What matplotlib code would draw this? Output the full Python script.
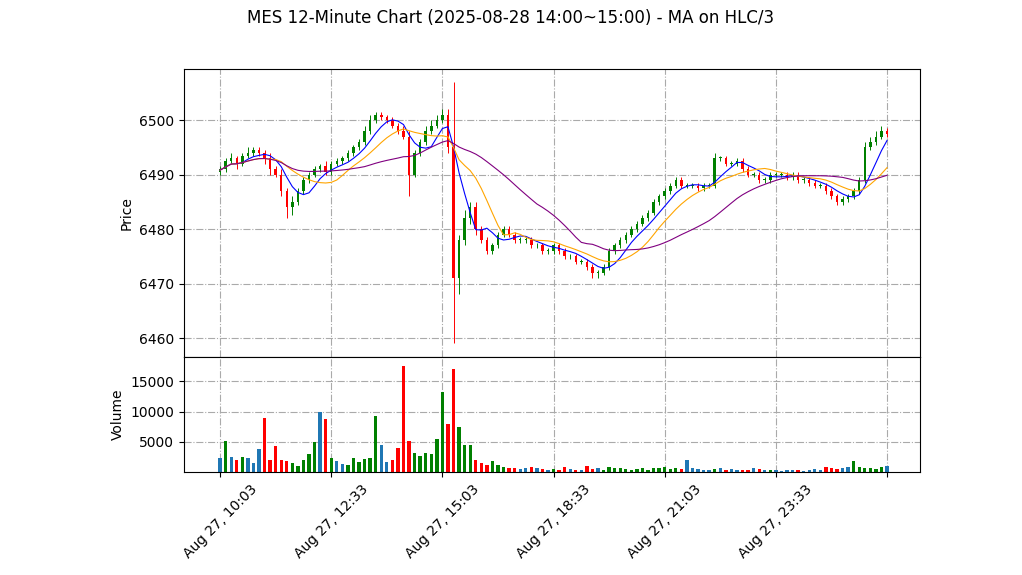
import matplotlib
matplotlib.use("Agg")
import matplotlib.pyplot as plt
import numpy as np
import pandas as pd

title = "MES 12-Minute Chart (2025-08-28 14:00~15:00) - MA on HLC/3"
tick_labels = ["Aug 27, 10:03", "Aug 27, 12:33", "Aug 27, 15:03", "Aug 27, 18:33",
               "Aug 27, 21:03", "Aug 27, 23:33", ""]
tick_idx = [0, 20, 40, 60, 80, 100, 120]

close = [6491,6492.5,6493,6492,6493.5,6494,6494.5,6494,6493,6491,
         6490,6487,6484,6485,6487,6489,6490,6491,6491.5,6490.5,
         6492,6492.5,6493,6494,6495,6496,6498,6500,6501,6500.5,
         6500,6499,6498,6497,6490,6494,6496,6498,6499,6500,
         6501,6495,6471,6478,6482,6484,6480,6478,6476,6477,
         6479,6480,6479,6478,6478,6478,6477,6477,6476,6476,
         6477,6476,6475,6475,6474,6474,6473,6472,6472,6473,
         6476,6477,6478,6479,6480,6481,6482,6483,6485,6486,
         6487,6488,6489,6488,6488,6488,6487.5,6488,6488,6493,
         6493,6492,6492,6492.5,6491,6490,6490,6489,6489,6490,
         6490,6490,6489.5,6490,6489,6489,6488.5,6488,6488,6487,
         6486,6485,6485.5,6486,6487,6489,6495,6496,6497,6498,6497.5]
open_first = 6490.5
wick_up = [1,1,2,1,1,2,1,1,1,2, 1,2,1,2,1,1,1,1,1,2, 1,1,1,1,1,1,2,2,1,1,
           1,1,1,2,2,1,1,2,2,2, 2,2,24,2,3,2,2,1,1,1, 1,1,1,1,1,1,1,1,1,1,
           1,1,1,1,1,1,1,1,1,1, 1,1,1,1,1,1,1,1,1,1, 1,1,1,1,1,1,1,1,1,2,
           1,1,1,1,1,1,1,1,1,1, 1,1,1,1,1,1,1,1,1,1, 1,1,1,1,1,1,2,2,2,2,1]
wick_dn = [1,1,1,2,1,1,1,1,2,2, 1,2,4,3,1,1,1,1,1,1, 1,1,1,1,1,1,1,1,1,1,
           1,1,1,1,8,1,1,1,1,1, 1,2,24,6,2,2,2,1,1,1, 1,1,1,1,1,1,1,1,1,1,
           1,1,1,1,1,1,1,2,2,1, 1,1,1,1,1,1,1,1,1,1, 1,1,1,1,1,1,1,1,1,1,
           1,1,1,1,1,1,1,1,1,1, 1,1,1,1,1,1,1,1,1,1, 1,1,1,1,1,1,1,1,1,1,1]
volume = [2300,5200,2500,2000,2500,2300,1500,3800,9000,2000,
          4300,2000,1800,1500,1000,2000,3000,5000,10000,8800,
          2400,1800,1400,1200,2300,1700,2200,2300,9300,4400,
          1600,2000,3900,17600,5200,3200,2700,3200,3000,5500,
          13200,8000,17000,7500,4500,4500,2000,1500,1200,1900,
          1200,800,700,600,500,600,800,600,500,400,
          500,400,900,500,400,400,1000,500,600,400,
          900,700,600,500,400,500,600,400,600,700,
          800,500,600,500,2000,600,500,400,300,500,
          600,400,500,300,400,300,600,500,300,400,
          300,200,300,400,300,200,300,500,300,800,
          600,500,700,900,1900,800,600,700,500,900,1000]

c = np.array(close, float)
o = np.concatenate([[open_first], c[:-1]])
h = np.maximum(o, c) + np.array(wick_up) * 0.5
l = np.minimum(o, c) - np.array(wick_dn) * 0.5
x = np.arange(len(c))
hlc3 = pd.Series((h + l + c) / 3)

fig = plt.figure(figsize=(10.22, 5.75), dpi=100)
fig.suptitle(title, fontsize=12, y=0.985)
ax = fig.add_axes([0.18, 0.379, 0.72, 0.501])
axv = fig.add_axes([0.18, 0.179, 0.72, 0.2], sharex=ax)

for a in (ax, axv):
    a.grid(True, color="#aaaaaa", linestyle="-.", linewidth=0.8)
    a.set_axisbelow(True)

up = c >= o
cols = np.where(up, "green", "red")
ax.vlines(x, l, h, colors=cols, linewidth=0.7)
ax.bar(x, np.maximum(np.abs(c - o), 0.15), bottom=np.minimum(o, c), width=0.45, color=cols)
ax.plot(x, hlc3.rolling(5, min_periods=1).mean(), color="blue", lw=0.8)
ax.plot(x, hlc3.rolling(10, min_periods=1).mean(), color="orange", lw=0.8)
ax.plot(x, hlc3.rolling(24, min_periods=1).mean(), color="purple", lw=0.8)
ax.set_ylim(6456.5, 6509.4)
ax.set_yticks([6460, 6470, 6480, 6490, 6500])
ax.set_ylabel("Price")
plt.setp(ax.get_xticklabels(), visible=False)

vcols = np.where(np.abs(c - o) < 0.75, "#1f77b4", cols)
axv.bar(x, volume, width=0.6, color=vcols)
axv.set_ylim(0, 19000)
axv.set_yticks([5000, 10000, 15000])
axv.set_ylabel("Volume")
axv.set_xlim(-6.5, 125.9)
axv.set_xticks(tick_idx)
axv.set_xticklabels(tick_labels, rotation=45)

fig.savefig("out.png", dpi=100)
